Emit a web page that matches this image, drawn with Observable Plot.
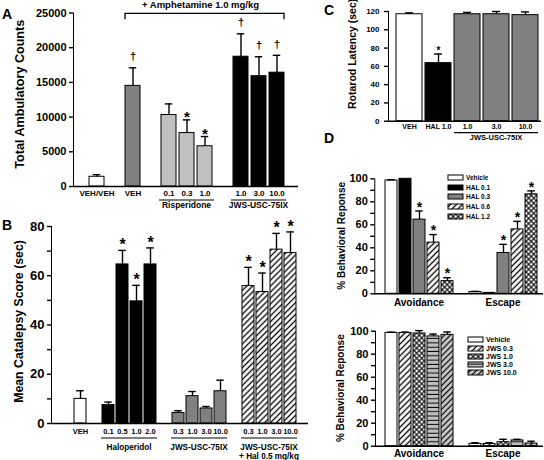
<!DOCTYPE html>
<html>
<head>
<meta charset="utf-8">
<script src="https://cdn.jsdelivr.net/npm/d3@7"></script>
<script src="https://cdn.jsdelivr.net/npm/@observablehq/plot@0.6"></script>
<style>
html, body { margin: 0; padding: 0; background: #fff; }
#fig { position: relative; width: 544px; height: 460px; overflow: hidden; font-family: 'Liberation Sans', Arial, Helvetica, sans-serif; color: #000; }
.panel { position: absolute; }
.letter { position: absolute; font: bold 14px 'Liberation Sans', Arial, sans-serif; line-height: 14px; }
.panel svg [aria-label^="y-axis"], .panel svg [aria-label^="y-axis"] * { stroke-width: 1.4px; }
.leg { position: absolute; }
.leg svg { overflow: visible !important; margin-right: 3px !important; }
.leg svg rect { stroke: #000; stroke-width: 1px; }
.leg [class$="-swatch"] { padding: 0 !important; margin: 0 !important; display: flex; align-items: center; }
#legD1 [class$="-swatch"] { height: 9.6px; }
#legD2 [class$="-swatch"] { height: 8.2px; }
</style>
</head>
<body>
<svg width="0" height="0" style="position:absolute">
  <defs>
    <pattern id="diagW" patternUnits="userSpaceOnUse" width="4.2" height="4.2" patternTransform="rotate(45)">
      <rect width="4.2" height="4.2" fill="#fff"/>
      <line x1="2.1" y1="0" x2="2.1" y2="4.2" stroke="#000" stroke-width="1.3"/>
    </pattern>
    <pattern id="diagG" patternUnits="userSpaceOnUse" width="4.2" height="4.2" patternTransform="rotate(45)">
      <rect width="4.2" height="4.2" fill="#c8c8c8"/>
      <line x1="2.1" y1="0" x2="2.1" y2="4.2" stroke="#000" stroke-width="1.2"/>
    </pattern>
    <pattern id="cross" patternUnits="userSpaceOnUse" width="3.6" height="3.6" patternTransform="rotate(45)">
      <rect width="3.6" height="3.6" fill="#fff"/>
      <line x1="1.8" y1="0" x2="1.8" y2="3.6" stroke="#000" stroke-width="1.1"/>
      <line x1="0" y1="1.8" x2="3.6" y2="1.8" stroke="#000" stroke-width="1.1"/>
    </pattern>
    <pattern id="horizG" patternUnits="userSpaceOnUse" width="4" height="4.3">
      <rect width="4" height="4.3" fill="#c0c0c0"/>
      <line x1="0" y1="2.1" x2="4" y2="2.1" stroke="#000" stroke-width="1"/>
    </pattern>
  </defs>
</svg>
<div id="fig">
  <div class="letter" style="left:2px;top:6.5px">A</div>
  <div class="letter" style="left:2px;top:217.5px">B</div>
  <div class="letter" style="left:324px;top:3.2px">C</div>
  <div class="letter" style="left:324px;top:131px">D</div>
  <div class="panel" id="pA" style="left:0;top:0;width:305px;height:215px"></div>
  <div class="panel" id="pB" style="left:0;top:215px;width:312px;height:245px"></div>
  <div class="panel" id="pC" style="left:290px;top:0;width:254px;height:145px"></div>
  <div class="panel" id="pD1" style="left:325px;top:165px;width:219px;height:145px"></div>
  <div class="panel" id="pD2" style="left:325px;top:315px;width:219px;height:145px"></div>
  <div class="leg" id="legD1" style="left:448px;top:172.9px"></div>
  <div class="leg" id="legD2" style="left:468px;top:335.9px"></div>
</div>
<script>
const FONT = "'Liberation Sans', Arial, Helvetica, sans-serif";

// ===== Panel A: Total Ambulatory Counts =====
const aGroups = ["VEH/VEH", "VEH", "Risperidone", "Risperidone", "Risperidone", "JWS-USC-75IX", "JWS-USC-75IX", "JWS-USC-75IX"];
const aLabels = ["VEH/VEH", "VEH", "0.1", "0.3", "1.0", "1.0", "3.0", "10.0"];
const aMeans  = [1400, 14500, 10300, 7700, 5800, 18700, 15900, 16400];
const aErrors = [300, 2600, 1600, 1900, 1400, 3300, 2800, 2500];
const aMarks  = ["", "†", "", "*", "*", "†", "†", "†"];
const aYTicks = [0, 5000, 10000, 15000, 20000, 25000];
const aYTitle = "Total Ambulatory Counts";
const aBracketText = "+ Amphetamine 1.0 mg/kg";
const aBracketFrom = "VEH";

// ===== Panel B: Mean Catalepsy Score =====
const bGroups = ["VEH", "Haloperidol", "Haloperidol", "Haloperidol", "Haloperidol",
  "JWS-USC-75IX", "JWS-USC-75IX", "JWS-USC-75IX", "JWS-USC-75IX",
  "JWS-USC-75IX\n+ Hal 0.5 mg/kg", "JWS-USC-75IX\n+ Hal 0.5 mg/kg", "JWS-USC-75IX\n+ Hal 0.5 mg/kg", "JWS-USC-75IX\n+ Hal 0.5 mg/kg"];
const bLabels = ["VEH", "0.1", "0.5", "1.0", "2.0", "0.3", "1.0", "3.0", "10.0", "0.3", "1.0", "3.0", "10.0"];
const bMeans  = [10.0, 7.5, 64.6, 49.6, 64.6, 4.3, 11.1, 6.1, 13.1, 55.8, 53.4, 70.6, 69.2];
const bErrors = [3.3, 1.2, 5.7, 6.5, 6.7, 0.9, 1.9, 0.8, 4.5, 7.6, 7.7, 6.6, 8.6];
const bMarks  = ["", "", "*", "*", "*", "", "", "", "", "*", "*", "*", "*"];
const bYTicks = [0, 10, 20, 30, 40, 50, 60, 70, 80];
const bYLabeled = [0, 20, 40, 60, 80];
const bYTitle = "Mean Catalepsy Score (sec)";

// ===== Panel C: Rotarod Latency =====
const cGroups = ["VEH", "HAL 1.0", "JWS-USC-75IX", "JWS-USC-75IX", "JWS-USC-75IX"];
const cLabels = ["VEH", "HAL 1.0", "1.0", "3.0", "10.0"];
const cMeans  = [117, 63.5, 117, 117, 116];
const cErrors = [1.5, 10, 2, 3, 3.5];
const cMarks  = ["", "*", "", "", ""];
const cYTicks = [0, 20, 40, 60, 80, 100, 120];
const cYTitle = "Rotarod Latency (sec)";

// ===== Panel D (top): haloperidol =====
const dResponses = ["Avoidance", "Escape"];
const d1Series = ["Vehicle", "HAL 0.1", "HAL 0.3", "HAL 0.6", "HAL 1.2"];
const d1Avoid = [98.5, 100, 64.5, 44.5, 11];
const d1AvoidErr = [0.7, 0, 7.5, 7, 3];
const d1AvoidMarks = ["", "", "*", "*", "*"];
const d1Escape = [1.5, 0.8, 35.5, 56, 86.5];
const d1EscapeErr = [0.6, 0, 7.5, 7, 3];
const d1EscapeMarks = ["", "", "*", "*", "*"];

// ===== Panel D (bottom): JWS-USC-75IX =====
const d2Series = ["Vehicle", "JWS 0.3", "JWS 1.0", "JWS 3.0", "JWS 10.0"];
const d2Avoid = [98.5, 98.5, 98, 95.5, 96.8];
const d2AvoidErr = [0.7, 0.7, 2.5, 2, 2.5];
const d2Escape = [2, 2, 3.5, 5, 2.3];
const d2EscapeErr = [1, 1, 2.5, 1, 2];
const dYTicks = [0, 10, 20, 30, 40, 50, 60, 70, 80, 90, 100];
const dYLabeled = [0, 20, 40, 60, 80, 100];
const dYTitle = "% Behavioral Reponse";

// ===== Fill styles =====
const aFills = {"VEH/VEH": "#ffffff", "VEH": "#808080", "Risperidone": "#c0c0c0", "JWS-USC-75IX": "#000000"};
const bFills = {"VEH": "#ffffff", "Haloperidol": "#000000", "JWS-USC-75IX": "#808080", "JWS-USC-75IX\n+ Hal 0.5 mg/kg": "url(#diagW)"};
const cFills = {"VEH": "#ffffff", "HAL 1.0": "#000000", "JWS-USC-75IX": "#808080"};
const d1Fills = ["#ffffff", "#000000", "#808080", "url(#diagW)", "url(#cross)"];
const d2Fills = ["#ffffff", "url(#diagW)", "url(#cross)", "url(#horizG)", "url(#diagG)"];

// ===== helpers =====
function makeRows(groups, labels, means, errors, marks, series) {
  return means.map((m, i) => ({
    key: groups[i] + "|" + labels[i] + "|" + i,
    group: groups[i], label: labels[i], series: series ? series[i] : groups[i],
    mean: m, err: errors[i], mark: marks ? marks[i] : ""
  }));
}
function slotDomain(rows, gaps) {
  const d = [];
  rows.forEach((r, i) => { if (gaps && i > 0 && r.group !== rows[i - 1].group) d.push("gap" + i); d.push(r.key); });
  return d;
}
function spansOf(rows) {
  const spans = [];
  for (const r of rows) {
    const last = spans[spans.length - 1];
    if (last && last.name === r.group) { last.last = r.key; last.n++; }
    else spans.push({name: r.group, first: r.key, last: r.key, n: 1});
  }
  return spans;
}
function capInset(range, n, pi, capW) {
  const step = (range[1] - range[0]) / n;
  return Math.max(0, (step * (1 - pi) - capW) / 2);
}
const baseStyle = fs => ({fontFamily: FONT, fontSize: fs, fontWeight: "bold", color: "black", background: "transparent", overflow: "visible"});

function barMarks(rows, o) {
  const withErr = rows.filter(r => r.err > 0);
  const top = r => r.mean + r.err;
  return [
    Plot.barY(rows, {x: "key", y: "mean", fill: "series", stroke: "black", strokeWidth: 1}),
    Plot.ruleX(withErr, {x: "key", y1: "mean", y2: top, stroke: "black", strokeWidth: 1.4}),
    Plot.tickY(withErr, {x: "key", y: top, insetLeft: o.cap, insetRight: o.cap, stroke: "black", strokeWidth: 1.4}),
    Plot.text(rows.filter(r => r.mark === "*"), {x: "key", y: top, text: "mark", dy: o.starDy, fontSize: o.starSize, fontWeight: "bold", fill: "#000"}),
    Plot.text(rows.filter(r => r.mark === "†"), {x: "key", y: top, text: "mark", dy: o.dagDy || -11, fontSize: o.dagSize || 11, fontWeight: "bold", fill: "#000"})
  ];
}
function groupAxis(spans, {lineDy = 0, textDy, fontSize, underline = true, pad = 1, lineGap = 1.1}) {
  return (index, scales, values, dims) => {
    const x = scales.x, bw = x.bandwidth ? x.bandwidth() : 0, y0 = scales.y(0);
    const g = d3.create("svg:g").attr("font-size", fontSize).attr("font-weight", "bold")
      .attr("text-anchor", "middle").attr("fill", "black");
    for (const s of spans) {
      const x1 = x(s.first), x2 = x(s.last) + bw, cx = (x1 + x2) / 2;
      if (underline) g.append("line").attr("x1", x1 - pad).attr("x2", x2 + pad)
        .attr("y1", y0 + lineDy).attr("y2", y0 + lineDy).attr("stroke", "black").attr("stroke-width", 1.2);
      const t = g.append("text").attr("y", y0 + textDy);
      s.name.split("\n").forEach((ln, j) => t.append("tspan").attr("x", cx).attr("dy", j ? lineGap + "em" : "0.35em").text(ln));
    }
    return g.node();
  };
}
function yTitle(text, x, fontSize, shift = 0) {
  return (index, scales, values, dims) => {
    const cy = (dims.marginTop + dims.height - dims.marginBottom) / 2 + shift;
    return d3.create("svg:text").attr("transform", `translate(${x},${cy}) rotate(-90)`)
      .attr("text-anchor", "middle").attr("dy", "0.35em").attr("font-size", fontSize)
      .attr("font-weight", "bold").attr("fill", "black").text(text).node();
  };
}
function bracketMark(fromKey, toKey, label, yValue, {drop, textDy, fontSize}) {
  return (index, scales) => {
    const x = scales.x, bw = x.bandwidth(), y = scales.y(yValue) + 0.8;
    const x1 = x(fromKey), x2 = x(toKey) + bw;
    const g = d3.create("svg:g");
    g.append("path").attr("d", `M${x1},${y + drop}V${y}H${x2}V${y + drop}`)
      .attr("fill", "none").attr("stroke", "black").attr("stroke-width", 1.3);
    g.append("text").attr("x", (x1 + x2) / 2 - 4).attr("y", y + textDy).attr("dy", "0.35em")
      .attr("text-anchor", "middle").attr("font-size", fontSize).attr("font-weight", "bold").text(label);
    return g.node();
  };
}

// ===== Panel A =====
{
  const rows = makeRows(aGroups, aLabels, aMeans, aErrors, aMarks);
  const domain = slotDomain(rows, true);
  const range = [84.5, 288], pi = 0.16;
  const svg = Plot.plot({
    width: 305, height: 215, marginLeft: 73, marginRight: 7, marginTop: 12.5, marginBottom: 29,
    style: baseStyle("11px"),
    x: {type: "band", domain, range, paddingInner: pi, paddingOuter: pi / 2, axis: null},
    y: {domain: [0, 25000], ticks: aYTicks, tickFormat: d => String(d), tickSize: 4, tickPadding: 3, line: true, label: null},
    color: {type: "ordinal", domain: Object.keys(aFills), range: Object.values(aFills)},
    marks: [
      ...barMarks(rows, {cap: capInset(range, domain.length, pi, 8), starDy: -2.5, starSize: 15, dagDy: -11, dagSize: 11}),
      Plot.ruleY([0], {stroke: "black", strokeWidth: 1.4}),
      Plot.text(rows, {x: "key", y: 0, text: "label", dy: 6.5, fontSize: 8, fontWeight: "bold"}),
      groupAxis(spansOf(rows).filter(s => s.n > 1), {lineDy: 14, textDy: 18.8, fontSize: 8.5, pad: 2}),
      bracketMark(rows.find(r => r.group === aBracketFrom).key, rows[rows.length - 1].key, aBracketText, aYTicks[aYTicks.length - 1], {drop: 6, textDy: -8.3, fontSize: 9.5}),
      yTitle(aYTitle, 20, 12.6, -5)
    ]
  });
  document.getElementById("pA").append(svg);
}

// ===== Panel B =====
{
  const rows = makeRows(bGroups, bLabels, bMeans, bErrors, bMarks);
  const domain = slotDomain(rows, true);
  const range = [65.9, 303.5], pi = 0.16;
  const svg = Plot.plot({
    width: 312, height: 245, marginLeft: 51, marginRight: 4, marginTop: 11, marginBottom: 37,
    style: baseStyle("13px"),
    x: {type: "band", domain, range, paddingInner: pi, paddingOuter: pi / 2, axis: null},
    y: {domain: [0, 80], ticks: bYTicks, tickFormat: d => bYLabeled.includes(d) ? String(d) : "", tickSize: 4, tickPadding: 3, line: true, label: null},
    color: {type: "ordinal", domain: Object.keys(bFills), range: Object.values(bFills)},
    marks: [
      ...barMarks(rows, {cap: capInset(range, domain.length, pi, 8), starDy: -5.5, starSize: 16}),
      Plot.ruleY([0], {stroke: "black", strokeWidth: 1.4}),
      Plot.text(rows, {x: "key", y: 0, text: "label", dy: 8.5, fontSize: 7.5, fontWeight: "bold"}),
      groupAxis(spansOf(rows).filter(s => s.n > 1), {lineDy: 15, textDy: 24.5, fontSize: 8.2, pad: 1, lineGap: 1.05}),
      yTitle(bYTitle, 18.3, 12.3, -3)
    ]
  });
  document.getElementById("pB").append(svg);
}

// ===== Panel C =====
{
  const rows = makeRows(cGroups, cLabels, cMeans, cErrors, cMarks);
  const domain = slotDomain(rows, false);
  const range = [103.2, 251.2], pi = 0.12;
  const svg = Plot.plot({
    width: 254, height: 145, marginLeft: 98, marginRight: 3, marginTop: 11, marginBottom: 24.3,
    style: baseStyle("8px"),
    x: {type: "band", domain, range, paddingInner: pi, paddingOuter: pi / 2, axis: null},
    y: {domain: [0, 120], ticks: cYTicks, tickFormat: d => String(d), tickSize: 4, tickPadding: 5, line: true, label: null},
    color: {type: "ordinal", domain: Object.keys(cFills), range: Object.values(cFills)},
    marks: [
      ...barMarks(rows, {cap: capInset(range, domain.length, pi, 8), starDy: -3, starSize: 10}),
      Plot.ruleY([0], {stroke: "black", strokeWidth: 1.4}),
      Plot.text(rows, {x: "key", y: 0, text: "label", dy: 6, fontSize: 7, fontWeight: "bold"}),
      groupAxis(spansOf(rows).filter(s => s.n > 1), {lineDy: 12, textDy: 16.8, fontSize: 7.5, pad: 0}),
      yTitle(cYTitle, 62, 10.5, -12)
    ]
  });
  document.getElementById("pC").append(svg);
}

// ===== Panel D =====
function dPanel(el, series, avoid, avoidErr, avoidMarks, escape, escapeErr, escapeMarks, fills, o) {
  const n = series.length;
  const groups = [...Array(n).fill(dResponses[0]), ...Array(n).fill(dResponses[1])];
  const labels = [...series, ...series];
  const rows = makeRows(groups, labels, [...avoid, ...escape], [...avoidErr, ...escapeErr],
    [...(avoidMarks || Array(n).fill("")), ...(escapeMarks || Array(n).fill(""))], labels);
  const domain = slotDomain(rows, true);
  const pi = 0.135;
  const svg = Plot.plot({
    width: 219, height: 145, marginLeft: o.ml, marginRight: 1, marginTop: o.mt, marginBottom: o.mb,
    style: baseStyle("11px"),
    x: {type: "band", domain, range: o.range, paddingInner: pi, paddingOuter: pi / 2, axis: null},
    y: {domain: [0, 100], ticks: dYTicks, tickFormat: d => dYLabeled.includes(d) ? String(d) : "", tickSize: 4, tickPadding: 3, line: true, label: null},
    color: {type: "ordinal", domain: series, range: fills},
    marks: [
      ...barMarks(rows, {cap: capInset(o.range, domain.length, pi, 8), starDy: -3.7, starSize: 14}),
      Plot.ruleY([0], {stroke: "black", strokeWidth: 1.4}),
      groupAxis(spansOf(rows), {textDy: o.textDy, fontSize: 10, underline: false}),
      yTitle(dYTitle, o.tx, 10, 0)
    ]
  });
  document.getElementById(el).append(svg);
}
dPanel("pD1", d1Series, d1Avoid, d1AvoidErr, d1AvoidMarks, d1Escape, d1EscapeErr, d1EscapeMarks, d1Fills,
  {ml: 49.3, mt: 13.3, mb: 16.7, range: [56.3, 215.2], textDy: 9.5, tx: 16});
dPanel("pD2", d2Series, d2Avoid, d2AvoidErr, null, d2Escape, d2EscapeErr, null, d2Fills,
  {ml: 50, mt: 15.7, mb: 14.3, range: [56.8, 215.7], textDy: 7.4, tx: 15});

// ===== D legends =====
function dLegend(el, series, fills, fs) {
  const leg = Plot.legend({
    color: {type: "ordinal", domain: series, range: fills},
    legend: "swatches", columns: 1, swatchWidth: 15, swatchHeight: 5,
    style: {fontFamily: FONT, fontSize: fs, fontWeight: "bold", marginBottom: "0px", color: "black"}
  });
  document.getElementById(el).append(leg);
}
dLegend("legD1", d1Series, d1Fills, "6.5px");
dLegend("legD2", d2Series, d2Fills, "7px");
</script>
</body>
</html>
